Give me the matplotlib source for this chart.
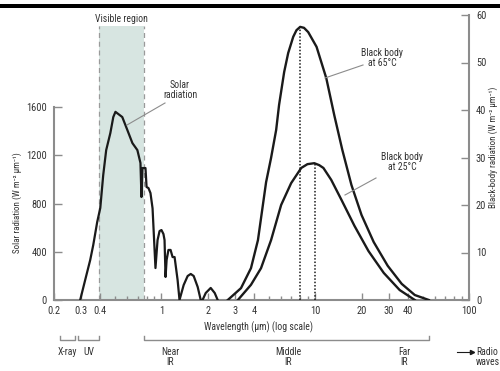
import matplotlib
matplotlib.use("Agg")
import matplotlib.pyplot as plt
from matplotlib.lines import Line2D
from matplotlib.patches import Rectangle
from matplotlib.ticker import FixedLocator, NullFormatter

plt.rcParams["font.family"] = ["Roboto Condensed", "DejaVu Sans"]

# solar spectrum (wavelength um, W m-2 um-1)
solar_wl = [0.296, 0.319, 0.344, 0.360, 0.382, 0.400, 0.418, 0.437, 0.465, 0.486,
            0.502, 0.514, 0.556, 0.600, 0.647, 0.697, 0.730, 0.741, 0.752, 0.787, 0.800,
            0.823, 0.848, 0.875, 0.914, 0.943, 0.972, 1.000, 1.030, 1.047, 1.063,
            1.080, 1.110, 1.146, 1.181, 1.217, 1.273, 1.310, 1.394, 1.480, 1.550,
            1.620, 1.720, 1.800, 1.850, 1.940, 2.090, 2.220, 2.320]
solar_val = [0, 166, 332, 456, 647, 763, 1036, 1243, 1384, 1517,
             1560, 1550, 1517, 1409, 1301, 1243, 1136, 854, 1094, 1094, 937,
             928, 887, 760, 265, 497, 572, 580, 547, 497, 191,
             332, 415, 415, 356, 356, 166, 0, 124, 199, 216,
             199, 108, 0, 0, 58, 100, 58, 0]

# black-body curves (right axis)
bb65_wl = [2.70, 3.29, 3.82, 4.24, 4.79, 5.16, 5.57, 5.82, 6.28, 6.67, 7.19, 7.55, 7.98,
           8.45, 9.0, 10.2, 11.8, 13.3, 15.0, 17.2, 20.0, 24.0, 29.6, 36.5, 44.4, 54.8]
bb65_val = [0, 2.5, 6.7, 12.6, 24.8, 29.9, 35.8, 41.1, 48.0, 52.0, 55.4, 56.8, 57.5,
            57.3, 56.4, 53.3, 46.7, 38.9, 31.6, 24.2, 17.9, 12.2, 7.2, 3.4, 1.05, 0]
bb25_wl = [3.14, 3.82, 4.44, 5.16, 6.0, 6.97, 8.11, 8.9, 9.86, 10.6, 11.3, 12.7, 14.8,
           18.0, 22.2, 27.9, 35.4, 44.4]
bb25_val = [0, 3.2, 6.7, 12.6, 20.0, 24.6, 27.8, 28.6, 28.8, 28.4, 27.8, 25.3, 21.1,
            15.6, 10.3, 5.7, 2.1, 0]
peak65 = (8.0, 57.5)
peak25 = (9.9, 28.8)

visible = (0.39, 0.77)
xticks = [0.2, 0.3, 0.4, 1, 2, 3, 4, 10, 20, 30, 40, 100]
xtick_labels = ["0.2", "0.3", "0.4", "1", "2", "3", "4", "10", "20", "30", "40", "100"]
xminor = [0.5, 0.6, 0.7, 0.8, 0.9, 5, 6, 7, 8, 9, 50, 60, 70, 80, 90]
left_ticks = [0, 400, 800, 1200, 1600]
right_ticks = [0, 10, 20, 30, 40, 50, 60]

gray = "#8c8c8c"
ink = "#1a1a1a"
txt = "#333333"
fs = 7
tfs = 7.5


def fx(x):
    return x / 500


def fy(y):
    return 1 - y / 371


fig = plt.figure(figsize=(5, 3.71), dpi=100)
ax = fig.add_axes([fx(54), fy(300), 415 / 500, 285 / 371])
ax.set_xscale("log")
ax.set_xlim(0.2, 100)
ax.set_ylim(0, 2363)
ax2 = ax.twinx()
ax2.set_ylim(0, 60)

# visible band
ax.axvspan(visible[0], visible[1], ymin=0, ymax=0.961, color="#d7e5e1", lw=0, zorder=0)
for v in visible:
    ax.axvline(v, ymin=0, ymax=0.961, color="#9a9a9a", ls=(0, (4, 3)), lw=0.9, zorder=1)

ax.plot(solar_wl, solar_val, color=ink, lw=1.6, zorder=3)
ax2.plot(bb65_wl, bb65_val, color=ink, lw=1.7, zorder=3)
ax2.plot(bb25_wl, bb25_val, color=ink, lw=1.7, zorder=3)
for px, py in (peak65, peak25):
    ax2.plot([px, px], [0, py], color=ink, ls=(0, (1, 1.2)), lw=1.1)

# axes styling
for a in (ax, ax2):
    for s in a.spines.values():
        s.set_visible(False)
ax.spines["left"].set_visible(True)
ax.spines["bottom"].set_visible(True)
ax2.spines["right"].set_visible(True)
for s in (ax.spines["left"], ax.spines["bottom"], ax2.spines["right"]):
    s.set_color(gray)
    s.set_linewidth(1.5)
ax.spines["left"].set_bounds(0, 1600)

ax.xaxis.set_major_locator(FixedLocator(xticks))
ax.set_xticklabels(xtick_labels)
ax.xaxis.set_minor_locator(FixedLocator(xminor))
ax.xaxis.set_minor_formatter(NullFormatter())
ax.set_yticks(left_ticks)
ax2.set_yticks(right_ticks)
ax.tick_params(axis="x", which="major", direction="in", length=5, width=1, color=gray,
               labelsize=tfs, labelcolor=txt, pad=4)
ax.tick_params(axis="x", which="minor", direction="in", length=3, width=1, color=gray)
ax.tick_params(axis="y", direction="in", length=6, width=1, color=gray,
               labelsize=tfs, labelcolor=txt, pad=5)
ax2.tick_params(axis="y", direction="in", length=6, width=1, color=gray,
                labelsize=tfs, labelcolor=txt, pad=5)

# labels
fig.text(fx(17), fy(203), "Solar radiation (W m⁻² μm⁻¹)", rotation=90,
         ha="center", va="center", fontsize=6.5, color=txt)
fig.text(fx(493), fy(147), "Black-body radiation (W m⁻² μm⁻¹)", rotation=90,
         ha="center", va="center", fontsize=6.5, color=txt)
fig.text(fx(258), fy(327), "Wavelength (μm) (log scale)", ha="center", va="center",
         fontsize=fs, color=txt)
fig.text(fx(121), fy(19), "Visible region", ha="center", va="center", fontsize=fs, color=txt)
fig.text(fx(180), fy(90), "Solar\nradiation", ha="center", va="center", fontsize=fs,
         color=txt, linespacing=1.1)
fig.text(fx(382), fy(58), "Black body\nat 65°C", ha="center", va="center", fontsize=fs,
         color=txt, linespacing=1.1)
fig.text(fx(402), fy(162), "Black body\nat 25°C", ha="center", va="center", fontsize=fs,
         color=txt, linespacing=1.1)

# leader lines
for (x0, y0, x1, y1) in [(165, 103, 127, 125), (363, 65, 325, 78), (376, 178, 345, 195)]:
    fig.add_artist(Line2D([fx(x0), fx(x1)], [fy(y0), fy(y1)], color=gray, lw=0.8))

# spectral band brackets below the axis
tr = ax.get_xaxis_transform()
by, bt = -0.14, -0.125
for (a, b) in [(0.218, 0.275), (0.285, 0.39), (0.775, 55)]:
    ax.plot([a, a, b, b], [bt, by, by, bt], color=gray, lw=1, transform=tr, clip_on=False)
fig.text(fx(67), fy(352), "X-ray", ha="center", va="center", fontsize=fs, color=txt)
fig.text(fx(89), fy(352), "UV", ha="center", va="center", fontsize=fs, color=txt)
fig.text(fx(170), fy(357), "Near\nIR", ha="center", va="center", fontsize=fs, color=txt,
         linespacing=1.1)
fig.text(fx(288), fy(357), "Middle\nIR", ha="center", va="center", fontsize=fs, color=txt,
         linespacing=1.1)
fig.text(fx(404), fy(357), "Far\nIR", ha="center", va="center", fontsize=fs, color=txt,
         linespacing=1.1)
fig.add_artist(Line2D([fx(457), fx(472)], [fy(352), fy(352)], color=ink, lw=0.8))
fig.add_artist(Line2D([fx(472)], [fy(352)], marker=">", markersize=3, color=ink))
fig.text(fx(476), fy(357), "Radio\nwaves", ha="left", va="center", fontsize=fs, color=txt,
         linespacing=1.1)

# black rule at the top
fig.add_artist(Rectangle((0, fy(7.5)), 1, 3 / 371, transform=fig.transFigure,
                         color="black", lw=0))

fig.savefig("out.png", dpi=100)
